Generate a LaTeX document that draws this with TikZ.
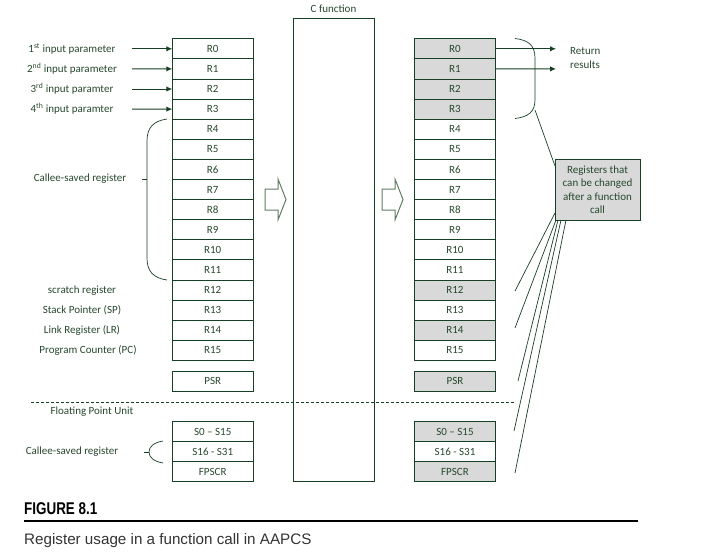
\documentclass[tikz,border=0pt]{standalone}
\usepackage{fontspec}
\setmainfont{Carlito}
\newfontfamily\capfont{Liberation Sans}
\newfontfamily\figfont[FakeStretch=0.79]{Liberation Sans}
\usetikzlibrary{arrows.meta}
\definecolor{dg}{RGB}{23,63,35}
\definecolor{tg}{RGB}{38,72,44}
\definecolor{gr}{RGB}{217,217,217}
\definecolor{hg}{RGB}{95,125,100}
\tikzset{
  reg/.style={draw=dg, line width=0.9pt, minimum width=81pt, minimum height=20.1pt, inner sep=0pt, outer sep=0pt, text=tg},
  regg/.style={reg, fill=gr},
  lbl/.style={text=tg, inner sep=0pt},
  arr/.style={draw=dg, line width=1pt, -{Latex[length=6pt,width=5.5pt]}},
  thinl/.style={draw=dg, line width=0.7pt},
  hollow/.style={draw=hg, line width=1pt, line join=miter},
}
\begin{document}
\begin{tikzpicture}[x=1pt,y=-1pt, font=\fontsize{11}{13.5}\selectfont]
\useasboundingbox (0,0) rectangle (705,555);

% left register column
\foreach \i in {0,...,15} {
  \node[reg] (L\i) at (212.75, {48.8+20.1*\i}) {R\i};
}
\node[reg] (Lpsr) at (212.75,381) {PSR};
\node[reg] (LS0) at (212.75,431.6) {S0 -- S15};
\node[reg] (LS16) at (212.75,451.7) {S16 - S31};
\node[reg] (LFP) at (212.75,471.8) {FPSCR};

% right register column
\foreach \i/\s in {0/regg,1/regg,2/regg,3/regg,4/reg,5/reg,6/reg,7/reg,8/reg,9/reg,10/reg,11/reg,12/regg,13/reg,14/regg,15/reg} {
  \node[\s] (Rr\i) at (455, {48.8+20.1*\i}) {R\i};
}
\node[regg] (Rpsr) at (455,381) {PSR};
\node[regg] (RS0) at (455,431.6) {S0 -- S15};
\node[reg] (RS16) at (455,451.7) {S16 - S31};
\node[regg] (RFP) at (455,471.8) {FPSCR};

% C function box
\node[draw=dg, line width=0.9pt, minimum width=81pt, minimum height=463pt, inner sep=0pt] (cf) at (333.5,249.8) {};
\node[lbl] (cft) at (333.5,8.5) {C function};

% hollow arrows
\draw[hollow] (265,189) -- (278,189) -- (278,179) -- (286,199.5) -- (278,220) -- (278,210) -- (265,210) -- cycle;
\draw[hollow] (382,189) -- (395,189) -- (395,179) -- (403,199.5) -- (395,220) -- (395,210) -- (382,210) -- cycle;

% input parameters
\node[lbl] (p1) at (72,48.8) {1\textsuperscript{st} input parameter};
\node[lbl] (p2) at (72,68.9) {2\textsuperscript{nd} input parameter};
\node[lbl] (p3) at (72,89.0) {3\textsuperscript{rd} input paramter};
\node[lbl] (p4) at (72,109.1) {4\textsuperscript{th} input paramter};
\coordinate (a1) at (132,48.8);
\coordinate (a2) at (132,68.9);
\coordinate (a3) at (132,89.0);
\coordinate (a4) at (132,109.1);
\draw[arr] (a1) -- (L0.west);
\draw[arr] (a2) -- (L1.west);
\draw[arr] (a3) -- (L2.west);
\draw[arr] (a4) -- (L3.west);

% callee-saved brace
\draw[thinl] (167,119) .. controls (153,121) and (147,128) .. (147,141) -- (147,258) .. controls (147,271) and (153,278) .. (167,280);
\draw[thinl] (142,179) -- (147,179);
\node[lbl] (cs) at (80,179) {Callee-saved register};

\node[lbl] (sr) at (82,290.5) {scratch register};
\node[lbl] (sp) at (82,310.6) {Stack Pointer (SP)};
\node[lbl] (lr) at (82,330.7) {Link Register (LR)};
\node[lbl] (pc) at (88,350.8) {Program Counter (PC)};

% FPU
\draw[thinl, dash pattern=on 3pt off 2pt] (31,402) -- (515,402);
\node[lbl] (fpu) at (92,411.5) {Floating Point Unit};
\node[lbl] (cs2) at (72,452) {Callee-saved register};
\draw[thinl] (144,452) -- (149,452);
\draw[thinl] (163,441) .. controls (154,442.5) and (149,446.5) .. (149,452) .. controls (149,457.5) and (154,461.5) .. (163,463);

% return results
\coordinate (r0) at (556,48.8);
\coordinate (r1) at (556,68.9);
\draw[arr] (Rr0.east) -- (r0);
\draw[arr] (Rr1.east) -- (r1);
\node[lbl, anchor=west, align=left] (ret) at (570,58) {Return\\results};

% right brace
\draw[thinl] (515,38.5) .. controls (528,40) and (535,45) .. (535,58) -- (535,100) .. controls (535,112) and (528,117) .. (515,118.5);

% info box
\node[draw=dg, fill=gr, line width=0.9pt, minimum width=85pt, minimum height=61pt, inner sep=0pt, align=center, text=tg] (info) at (597.5,189.5) {Registers that\\can be changed\\after a function\\call};
\coordinate (bq) at (535,110);
\coordinate (b0) at (555,166);
\draw[thinl] (bq) -- (b0);

\coordinate (s1) at (555,213);
\coordinate (s2) at (556,220);
\coordinate (s3) at (558,220);
\coordinate (s4) at (561,220);
\coordinate (s5) at (566,220);
\coordinate (e1) at (515,291);
\coordinate (e2) at (515,328);
\coordinate (e3) at (518,381);
\coordinate (e4) at (514,431);
\coordinate (e5) at (515,473);
\draw[thinl] (s1) -- (e1);
\draw[thinl] (s2) -- (e2);
\draw[thinl] (s3) -- (e3);
\draw[thinl] (s4) -- (e4);
\draw[thinl] (s5) -- (e5);

% caption
\node[anchor=base west, inner sep=0pt, font=\figfont\bfseries\fontsize{17}{20}\selectfont, text=black] (fig) at (24,514) {FIGURE 8.1};
\coordinate (c1) at (24,520.5);
\coordinate (c2) at (638,520.5);
\draw[line width=2pt] (c1) -- (c2);
\node[anchor=base west, inner sep=0pt, font=\capfont\fontsize{15.2}{18}\selectfont, text=black!80] (cap) at (24,544.5) {Register usage in a function call in AAPCS};
\end{tikzpicture}
\end{document}
